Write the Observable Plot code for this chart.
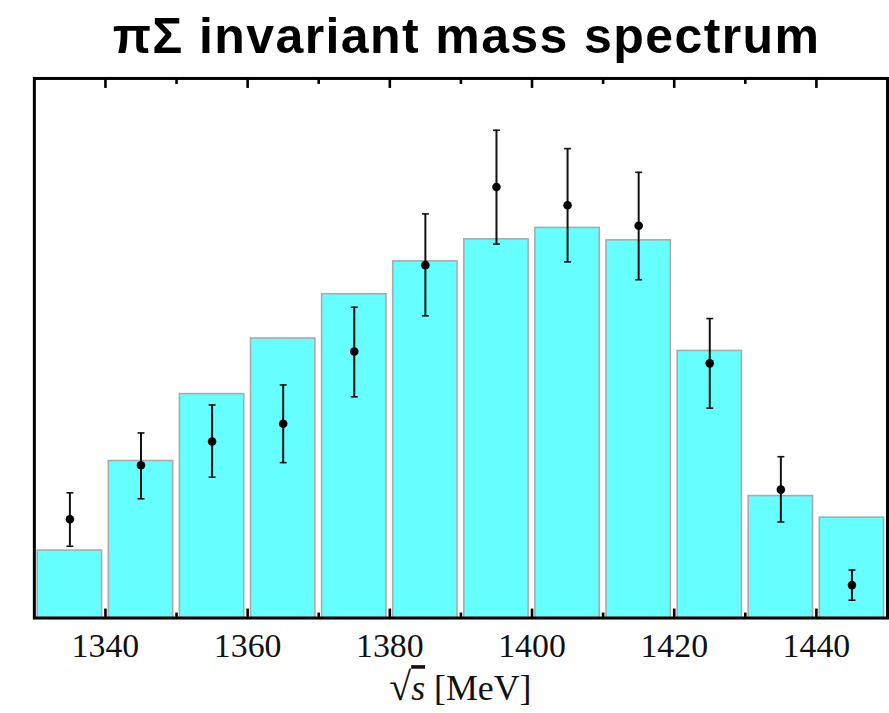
<!DOCTYPE html>
<html>
<head>
<meta charset="utf-8">
<script src="https://cdn.jsdelivr.net/npm/d3@7"></script>
<script src="https://cdn.jsdelivr.net/npm/@observablehq/plot@0.6"></script>
<style>
  html, body { margin: 0; padding: 0; background: #fff; overflow: hidden; width: 889px; height: 713px; }
  #title { height: 70px; line-height: 72px; font-family: "Liberation Sans", Arial, sans-serif; font-weight: bold; font-size: 50px; letter-spacing: 1.4px; text-align: center; padding-left: 44px; box-sizing: border-box; width: 889px; white-space: nowrap; overflow: hidden; }
  #chart svg { display: block; overflow: hidden; }
</style>
</head>
<body>
<div id="title">πΣ invariant mass spectrum</div>
<div id="chart"></div>
<script>
// Bin edges (MeV) and bin width
const binStart = [1330, 1340, 1350, 1360, 1370, 1380, 1390, 1400, 1410, 1420, 1430, 1440];
const binWidth = 10;
// Histogram (model) bar heights, arbitrary units
const barHeight = [12.5, 29.1, 41.5, 51.8, 60.0, 66.1, 70.2, 72.3, 70.0, 49.5, 22.6, 18.6];
// Data points with error bars
const pointX = [1335, 1345, 1355, 1365, 1375, 1385, 1395, 1405, 1415, 1425, 1435, 1445];
const pointY = [18.3, 28.3, 32.7, 36.0, 49.4, 65.4, 79.9, 76.5, 72.7, 47.2, 23.8, 6.1];
const errLow = [13.3, 22.1, 26.1, 28.8, 41.0, 56.0, 69.3, 66.0, 62.7, 38.9, 17.8, 3.3];
const errHigh = [23.2, 34.3, 39.5, 43.2, 57.6, 74.9, 90.4, 87.0, 82.6, 55.5, 29.9, 8.9];
// Axis ticks
const majorTicks = [1340, 1360, 1380, 1400, 1420, 1440];
const minorTicks = [1350, 1370, 1390, 1410, 1430];
const xDomain = [1330, 1450];
const yDomain = [0, 100];
const xLabel = "[MeV]";

const bars = binStart.map((s, i) => ({x1: s, x2: s + binWidth, y: barHeight[i]}));
const points = pointX.map((x, i) => ({x, y: pointY[i], lo: errLow[i], hi: errHigh[i]}));

const capSymbol = {
  draw(context, size) {
    const w = Math.sqrt(size / Math.PI);
    context.moveTo(-w, 0);
    context.lineTo(w, 0);
  }
};

const serif = "'Liberation Serif', 'Times New Roman', serif";
const tickStyle = {fill: "none", strokeWidth: 2.6, stroke: "#000", label: null, tickFormat: null};

const chart = Plot.plot({
  width: 893,
  height: 643,
  marginLeft: 34,
  marginRight: 2,
  marginTop: 8,
  marginBottom: 93,
  x: {domain: xDomain, axis: null},
  y: {domain: yDomain, axis: null},
  marks: [
    Plot.rectY(bars, {x1: "x1", x2: "x2", y: "y", fill: "#66ffff", stroke: "#aaaaaa", strokeWidth: 1.6, insetLeft: 3.4, insetRight: 3.4}),
    Plot.ruleX(points, {x: "x", y1: "lo", y2: "hi", stroke: "#111", strokeWidth: 2}),
    Plot.dot(points, {x: "x", y: "lo", symbol: capSymbol, r: 3.5, stroke: "#111", strokeWidth: 1.6, fill: "none"}),
    Plot.dot(points, {x: "x", y: "hi", symbol: capSymbol, r: 3.5, stroke: "#111", strokeWidth: 1.6, fill: "none"}),
    Plot.dot(points, {x: "x", y: "y", r: 4.3, fill: "#000", stroke: "none"}),
    Plot.frame({stroke: "#000", strokeWidth: 3}),
    Plot.axisX(majorTicks, {anchor: "bottom", tickSize: 9, dy: -9, ...tickStyle}),
    Plot.axisX(minorTicks, {anchor: "bottom", tickSize: 5, dy: -5, ...tickStyle}),
    Plot.axisX(majorTicks, {anchor: "top", tickSize: 9, dy: 9, ...tickStyle}),
    Plot.axisX(minorTicks, {anchor: "top", tickSize: 5, dy: 5, ...tickStyle}),
    Plot.axisX(majorTicks, {anchor: "bottom", tickSize: 0, stroke: "none", tickPadding: 15, label: null,
      tickFormat: d => String(d), fontSize: 34, fontFamily: serif, fill: "#111"})
  ]
});
document.getElementById("chart").appendChild(chart);

// x-axis label: √s [MeV]
const xs = chart.scale("x");
const cx = (xs.range[0] + xs.range[1]) / 2;
const svg = d3.select(chart);
const lab = svg.append("text")
  .attr("x", cx)
  .attr("y", 633)
  .attr("text-anchor", "middle")
  .attr("font-family", serif)
  .attr("font-size", 36)
  .attr("fill", "#111");
lab.append("tspan").attr("font-size", 40).text("√");
lab.append("tspan").attr("font-style", "italic").style("text-decoration", "overline").text("s");
lab.append("tspan").text(" " + xLabel);
</script>
</body>
</html>
